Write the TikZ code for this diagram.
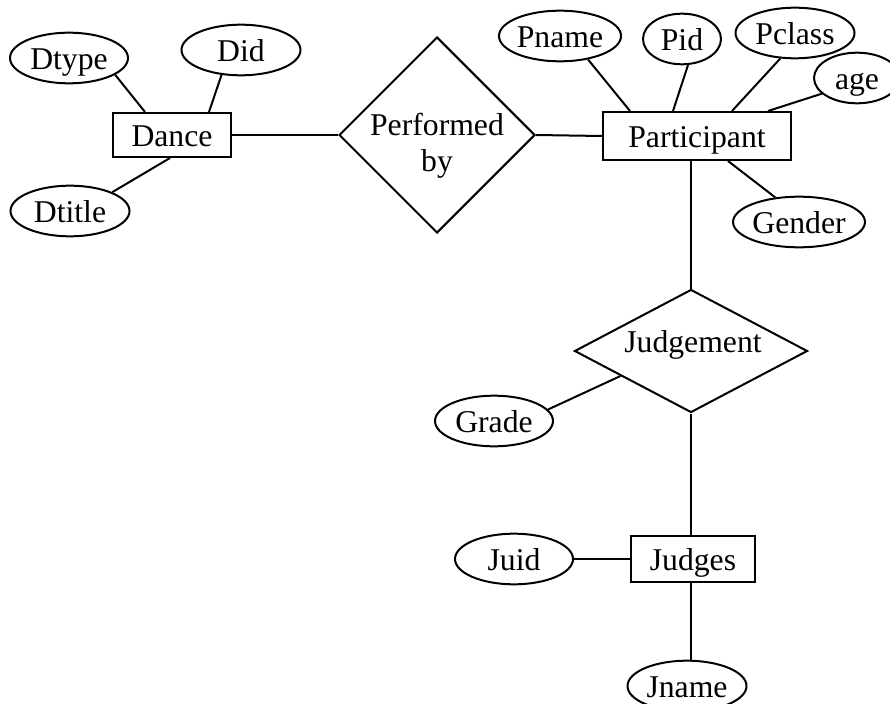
\documentclass[tikz,border=0pt]{standalone}
\usepackage{fontspec}
\setmainfont{Liberation Serif}
\usetikzlibrary{shapes.geometric,calc}
\begin{document}
\begin{tikzpicture}[x=1pt,y=-1pt,line width=2pt,
  base/.style={font=\fontsize{31.7}{38}\selectfont},
  attr/.style={base,draw,ellipse,inner sep=0pt,text height=29.5pt,text depth=6.3pt},
  ent/.style={base,draw,rectangle,inner sep=0pt,text height=29.5pt,text depth=6.3pt},
  rel/.style={draw,diamond,inner sep=0pt},
  lbl/.style={base,inner sep=0pt,anchor=base}]
\useasboundingbox (0,0) rectangle (890,703);
\clip (0,0) rectangle (890,703);
% entities
\node[ent,minimum width=118pt,minimum height=44pt] (dance) at (172,135) {Dance};
\node[ent,minimum width=188pt,minimum height=48pt] (part) at (697,136) {Participant};
\node[ent,minimum width=124pt,minimum height=46pt] (judges) at (693,559) {Judges};
% relationships
\node[rel,minimum width=196pt,minimum height=196pt] (perf) at (437,135) {};
\node[lbl] (perf1) at (437,136) {Performed};
\node[lbl] (perf2) at (437,172) {by};
\node[rel,minimum width=233pt,minimum height=123pt] (judg) at (691,351) {};
\node[lbl] (judgt) at (693,352) {Judgement};
% attributes
\node[attr,minimum width=118pt,minimum height=45pt] (dtype) at (69,58) {Dtype};
\node[attr,minimum width=119pt,minimum height=45pt] (did) at (241,50) {Did};
\node[attr,minimum width=119pt,minimum height=45pt] (dtitle) at (70,211) {Dtitle};
\node[attr,minimum width=115pt,minimum height=42pt] (pname) at (560,36) {Pname};
\node[attr,minimum width=78pt,minimum height=47pt] (pid) at (682,39) {Pid};
\node[attr,minimum width=119pt,minimum height=45pt] (pclass) at (795,33) {Pclass};
\node[attr,minimum width=86pt,minimum height=46pt] (age) at (857,78) {age};
\node[attr,minimum width=118pt,minimum height=47pt] (gender) at (799,222) {Gender};
\node[attr,minimum width=118pt,minimum height=43pt] (grade) at (494,421) {Grade};
\node[attr,minimum width=118pt,minimum height=45pt] (juid) at (514,559) {Juid};
\node[attr,minimum width=119pt,minimum height=45pt] (jname) at (687,686) {Jname};
% connectors
\draw (dtype.-20) -- ([xshift=-27pt]dance.north);
\draw (did.-128) -- ([xshift=37pt]dance.north);
\draw (dtitle.24) -- ([xshift=-2pt]dance.south);
\draw (dance.east) -- (perf.west);
\draw (perf.east) -- (part.west);
\draw (pname.-40) -- ([xshift=-67pt]part.north);
\draw (pid.-77) -- ([xshift=-24pt]part.north);
\draw (pclass.-120) -- ([xshift=35pt]part.north);
\draw (age.-156) -- ([xshift=71pt]part.north);
\draw (gender.134) -- ([xshift=31pt]part.south);
\draw ([xshift=-6pt]part.south) -- (judg.north);
\draw (grade.12) -- ($(judg.west)!0.4!(judg.south)$);
\draw (judg.south) -- (judg.south |- judges.north);
\draw (juid.east) -- (judges.west);
\draw ([xshift=-2pt]judges.south) -- ([xshift=-2pt]judges.south |- jname.north);
\end{tikzpicture}
\end{document}
